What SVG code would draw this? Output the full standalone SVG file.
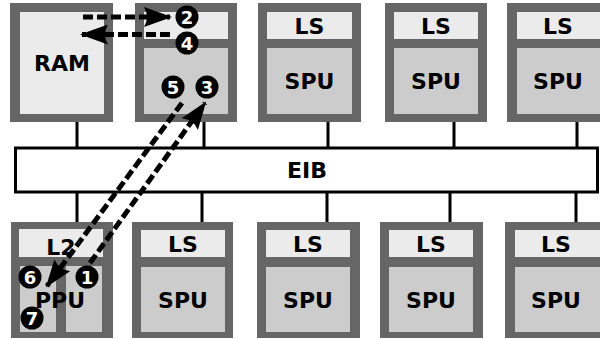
<svg xmlns="http://www.w3.org/2000/svg" width="600" height="339" viewBox="0 0 600 339">
<style>
.outer{fill:#666666}
.ls{fill:#ebebeb}
.spu{fill:#cccccc}
.t{font-family:"DejaVu Sans","Liberation Sans",sans-serif;font-weight:bold;font-size:22px;fill:#000;text-anchor:middle}
.bus{stroke:#000;stroke-width:3;fill:none}
.flow{stroke:#000;stroke-width:5;fill:none;stroke-dasharray:10 4}
.num circle{fill:#000}
.num text{font-family:"DejaVu Sans","Liberation Sans",sans-serif;font-weight:bold;font-size:18px;fill:#fff;text-anchor:middle}
</style>
<defs>
<marker id="ah" markerUnits="userSpaceOnUse" viewBox="0 0 28 20" refX="26" refY="10" markerWidth="28" markerHeight="20" orient="auto">
<path d="M0,0 L28,10 L0,20 Q6,10 0,0 Z" fill="#000"/>
</marker>
</defs>
<rect width="600" height="339" fill="#fff"/>
<g id="connectors">
<path class="bus" d="M77,122V148M204,122V148M328,122V148M454,122V148M577,122V148"/>
<path class="bus" d="M77,192V222M202,192V222M327,192V222M450,192V222M576,192V222"/>
</g>
<g id="ram">
<rect class="outer" x="10" y="3" width="103" height="119"/>
<rect class="ls" x="20" y="12" width="84" height="102"/>
<text class="t" x="62" y="71">RAM</text>
</g>
<g id="spe-top-1">
<rect class="outer" x="135" y="3" width="102" height="119"/>
<rect class="ls" x="144" y="12" width="84" height="27"/>
<rect class="spu" x="144" y="48" width="84" height="66"/>
</g>
<g id="spe-top-2">
<rect class="outer" x="258" y="3" width="103" height="119"/>
<rect class="ls" x="267" y="12" width="85" height="27"/>
<rect class="spu" x="267" y="48" width="85" height="66"/>
<text class="t" x="309.5" y="33.5">LS</text>
<text class="t" x="309.5" y="89">SPU</text>
</g>
<g id="spe-top-3">
<rect class="outer" x="385" y="3" width="102" height="119"/>
<rect class="ls" x="394" y="12" width="84" height="27"/>
<rect class="spu" x="394" y="48" width="84" height="66"/>
<text class="t" x="436" y="33.5">LS</text>
<text class="t" x="436" y="89">SPU</text>
</g>
<g id="spe-top-4">
<rect class="outer" x="507" y="3" width="110" height="119"/>
<rect class="ls" x="517" y="12" width="90" height="27"/>
<rect class="spu" x="517" y="48" width="90" height="66"/>
<text class="t" x="558" y="33.5">LS</text>
<text class="t" x="558" y="89">SPU</text>
</g>
<g id="eib">
<rect x="15.5" y="148" width="582" height="44" fill="#fff" stroke="#000" stroke-width="3"/>
<text class="t" x="307" y="178">EIB</text>
</g>
<g id="ppe">
<rect class="outer" x="11" y="222" width="102" height="116"/>
<rect class="ls" x="19" y="229" width="84" height="28"/>
<rect class="spu" x="20" y="266" width="36" height="66"/>
<rect class="spu" x="66" y="266" width="36" height="66"/>
<text class="t" x="61" y="254.5">L2</text>
<text class="t" x="60" y="308">PPU</text>
</g>
<g id="spe-bot-1">
<rect class="outer" x="132" y="222" width="101" height="116"/>
<rect class="ls" x="141" y="230" width="84" height="27"/>
<rect class="spu" x="141" y="267" width="84" height="65"/>
<text class="t" x="183" y="251.5">LS</text>
<text class="t" x="183" y="307.5">SPU</text>
</g>
<g id="spe-bot-2">
<rect class="outer" x="257" y="222" width="103" height="116"/>
<rect class="ls" x="266" y="230" width="84" height="27"/>
<rect class="spu" x="266" y="267" width="84" height="65"/>
<text class="t" x="308" y="251.5">LS</text>
<text class="t" x="308" y="307.5">SPU</text>
</g>
<g id="spe-bot-3">
<rect class="outer" x="380" y="222" width="103" height="116"/>
<rect class="ls" x="389" y="230" width="84" height="27"/>
<rect class="spu" x="389" y="267" width="84" height="65"/>
<text class="t" x="431" y="251.5">LS</text>
<text class="t" x="431" y="307.5">SPU</text>
</g>
<g id="spe-bot-4">
<rect class="outer" x="505" y="222" width="110" height="116"/>
<rect class="ls" x="515" y="230" width="90" height="27"/>
<rect class="spu" x="515" y="267" width="90" height="65"/>
<text class="t" x="556" y="251.5">LS</text>
<text class="t" x="556" y="307.5">SPU</text>
</g>
<g id="flows">
<path class="flow" d="M83,17H170" marker-end="url(#ah)"/>
<path class="flow" d="M170,34.5H82" marker-end="url(#ah)"/>
<path class="flow" d="M90,263L205,103" marker-end="url(#ah)"/>
<path class="flow" d="M182,103L47,286" marker-end="url(#ah)"/>
</g>
<g id="steps" class="num">
<g><circle cx="87" cy="277" r="11.5"/><text x="87" y="283.5">1</text></g>
<g><circle cx="187" cy="17" r="11.5"/><text x="187" y="23.5">2</text></g>
<g><circle cx="207" cy="87" r="11.5"/><text x="207" y="93.5">3</text></g>
<g><circle cx="187" cy="43" r="11.5"/><text x="187" y="49.5">4</text></g>
<g><circle cx="173" cy="87" r="11.5"/><text x="173" y="93.5">5</text></g>
<g><circle cx="30" cy="277" r="11.5"/><text x="30" y="283.5">6</text></g>
<g><circle cx="32" cy="318" r="11.5"/><text x="32" y="324.5">7</text></g>
</g>
</svg>
